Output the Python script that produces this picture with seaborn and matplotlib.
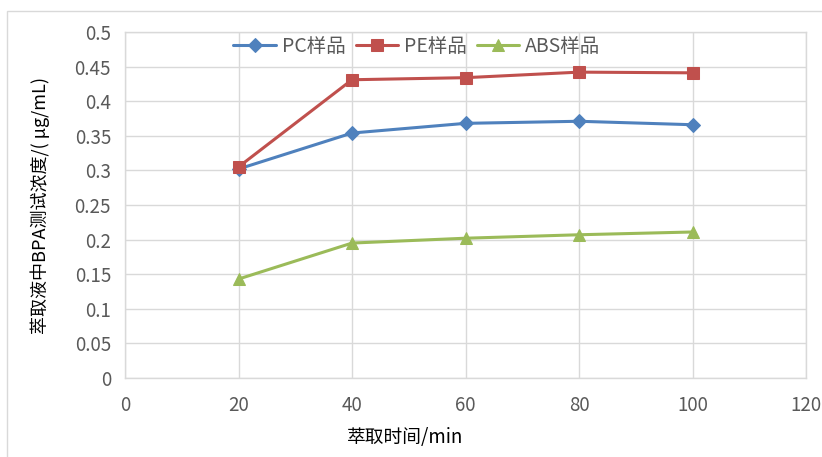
import matplotlib
matplotlib.use("Agg")
import matplotlib.pyplot as plt
import seaborn as sns
import pandas as pd
from matplotlib.patches import Rectangle

# extraction time (min) and measured BPA concentration (μg/mL)
times = [20, 40, 60, 80, 100]
pc_values = [0.302, 0.354, 0.368, 0.371, 0.366]
pe_values = [0.305, 0.431, 0.434, 0.442, 0.441]
abs_values = [0.143, 0.195, 0.202, 0.207, 0.211]
series_names = ["PC样品", "PE样品", "ABS样品"]
x_ticks = [0, 20, 40, 60, 80, 100, 120]
y_ticks = [0, 0.05, 0.1, 0.15, 0.2, 0.25, 0.3, 0.35, 0.4, 0.45, 0.5]
y_tick_labels = ["0", "0.05", "0.1", "0.15", "0.2", "0.25", "0.3", "0.35", "0.4", "0.45", "0.5"]

df = pd.DataFrame({
    "time": times * 3,
    "value": pc_values + pe_values + abs_values,
    "sample": [series_names[0]] * 5 + [series_names[1]] * 5 + [series_names[2]] * 5,
})

sns.set_theme(style="white")
plt.rcParams["font.family"] = ["Noto Sans CJK SC", "DejaVu Sans"]

colors = {"PC样品": "#4F81BD", "PE样品": "#C0504D", "ABS样品": "#9BBB59"}
markers = {"PC样品": "D", "PE样品": "s", "ABS样品": "^"}
msizes = {"PC样品": 7, "PE样品": 8, "ABS样品": 8.5}

fig = plt.figure(figsize=(8.22, 4.57), dpi=100)
fig.patches.append(Rectangle((7 / 822, -0.1), 1.2, 1 - 11 / 457 + 0.1,
                             transform=fig.transFigure, fill=False,
                             edgecolor="#D9D9D9", linewidth=1.0, zorder=0))
ax = fig.add_axes([125 / 822, 1 - 378 / 457, (806 - 125) / 822, (378 - 32) / 457])

for name in series_names:
    sub = df[df["sample"] == name]
    sns.lineplot(data=sub, x="time", y="value", ax=ax, color=colors[name],
                 marker=markers[name], markersize=msizes[name],
                 markeredgecolor=colors[name], linewidth=2.2, label=name,
                 zorder=3)

ax.set_xlim(0, 120)
ax.set_ylim(0, 0.5)
ax.set_xticks(x_ticks)
ax.set_yticks(y_ticks)
ax.set_yticklabels(y_tick_labels)
ax.grid(True, color="#D9D9D9", linewidth=1.0)
ax.set_axisbelow(True)
for s in ax.spines.values():
    s.set_color("#D9D9D9")
    s.set_linewidth(1.0)
ax.tick_params(axis="both", length=0, labelsize=13.5, colors="#595959", pad=10)
ax.tick_params(axis="x", pad=12)

ax.set_xlabel("")
ax.set_ylabel("萃取液中BPA测试浓度/( μg/mL)", fontsize=13, color="#000000", labelpad=18)
fig.text(405 / 822, 1 - 438 / 457, "萃取时间/min", fontsize=13.5, color="#000000",
         ha="center", va="center")

leg = ax.legend(loc="upper center", ncol=3, frameon=False,
                fontsize=14, handlelength=2.2, handletextpad=0.3, columnspacing=0.5,
                borderaxespad=0)
leg.set_bbox_to_anchor((417 / 822, 1 - 28 / 457), transform=fig.transFigure)
for t in leg.get_texts():
    t.set_color("#595959")

fig.savefig("out.png", dpi=100)
